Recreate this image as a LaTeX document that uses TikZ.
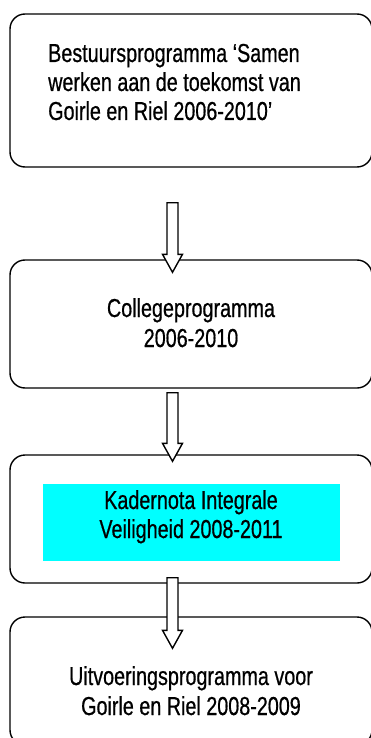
\documentclass[tikz,border=0pt]{standalone}
\usepackage{fontspec}
\setmainfont{Liberation Sans}[FakeStretch=0.76, FakeBold=0.6]
\usetikzlibrary{calc}
\definecolor{kcyan}{RGB}{0,255,255}
\tikzset{
  box/.style={draw, line width=1.4pt, rounded corners=15pt, inner sep=0pt, minimum width=362pt},
  txt/.style={font=\fontsize{26}{30}\selectfont, inner sep=0pt},
  arrowline/.style={draw, fill=white, line width=1.4pt, line join=miter},
}
\newcommand\blockarr[2]{%
  \path[arrowline] let \p1=(#1), \p2=(#2) in
    (\x1-5.5pt,\y1) -- (\x1+5.5pt,\y1) -- (\x1+5.5pt,\y2+18pt) -- (\x1+10pt,\y2+18pt)
    -- (\x1,\y2) -- (\x1-10pt,\y2+18pt) -- (\x1-5.5pt,\y2+18pt) -- cycle;}
\begin{document}
\begin{tikzpicture}[x=1pt,y=-1pt]
\useasboundingbox (0,0) rectangle (371,738);
\clip (0,0) rectangle (371,738);
\node[box, minimum height=153pt] (b1) at (191,90.5) {};
\node[box, minimum height=128pt] (b2) at (191,324) {};
\node[box, minimum height=128pt] (b3) at (191,519) {};
\node[box, minimum height=128pt] (b4) at (191,681) {};
\node[fill=kcyan, minimum width=297pt, minimum height=77pt, inner sep=0pt] (k) at (191.5,522.5) {};
% texts
\node[txt, anchor=base west] (t1a) at (48,62) {Bestuursprogramma ‘Samen};
\node[txt, anchor=base west] (t1b) at (48,91) {werken aan de toekomst van};
\node[txt, anchor=base west] (t1c) at (48,120) {Goirle en Riel 2006-2010’};
\node[txt, anchor=base] (t2a) at (191,317) {Collegeprogramma};
\node[txt, anchor=base] (t2b) at (191,347) {2006-2010};
\node[txt, anchor=base] (t3a) at (191,509) {Kadernota Integrale};
\node[txt, anchor=base] (t3b) at (191,538) {Veiligheid 2008-2011};
\node[txt, anchor=base] (t4a) at (191,685) {Uitvoeringsprogramma voor};
\node[txt, anchor=base] (t4b) at (191,715) {Goirle en Riel 2008-2009};
% arrows
\coordinate (a1s) at ($(b1.south)+(-18.5,35)$);
\coordinate (a1e) at ($(b2.north)+(-18.5,13)$);
\coordinate (a2s) at ($(b2.south)+(-18.5,4)$);
\coordinate (a2e) at ($(b3.north)+(-18.5,7)$);
\coordinate (a3s) at ($(b3.south)+(-18.5,-6)$);
\coordinate (a3e) at ($(b4.north)+(-18.5,32)$);
\blockarr{a1s}{a1e}
\blockarr{a2s}{a2e}
\blockarr{a3s}{a3e}
\end{tikzpicture}
\end{document}
